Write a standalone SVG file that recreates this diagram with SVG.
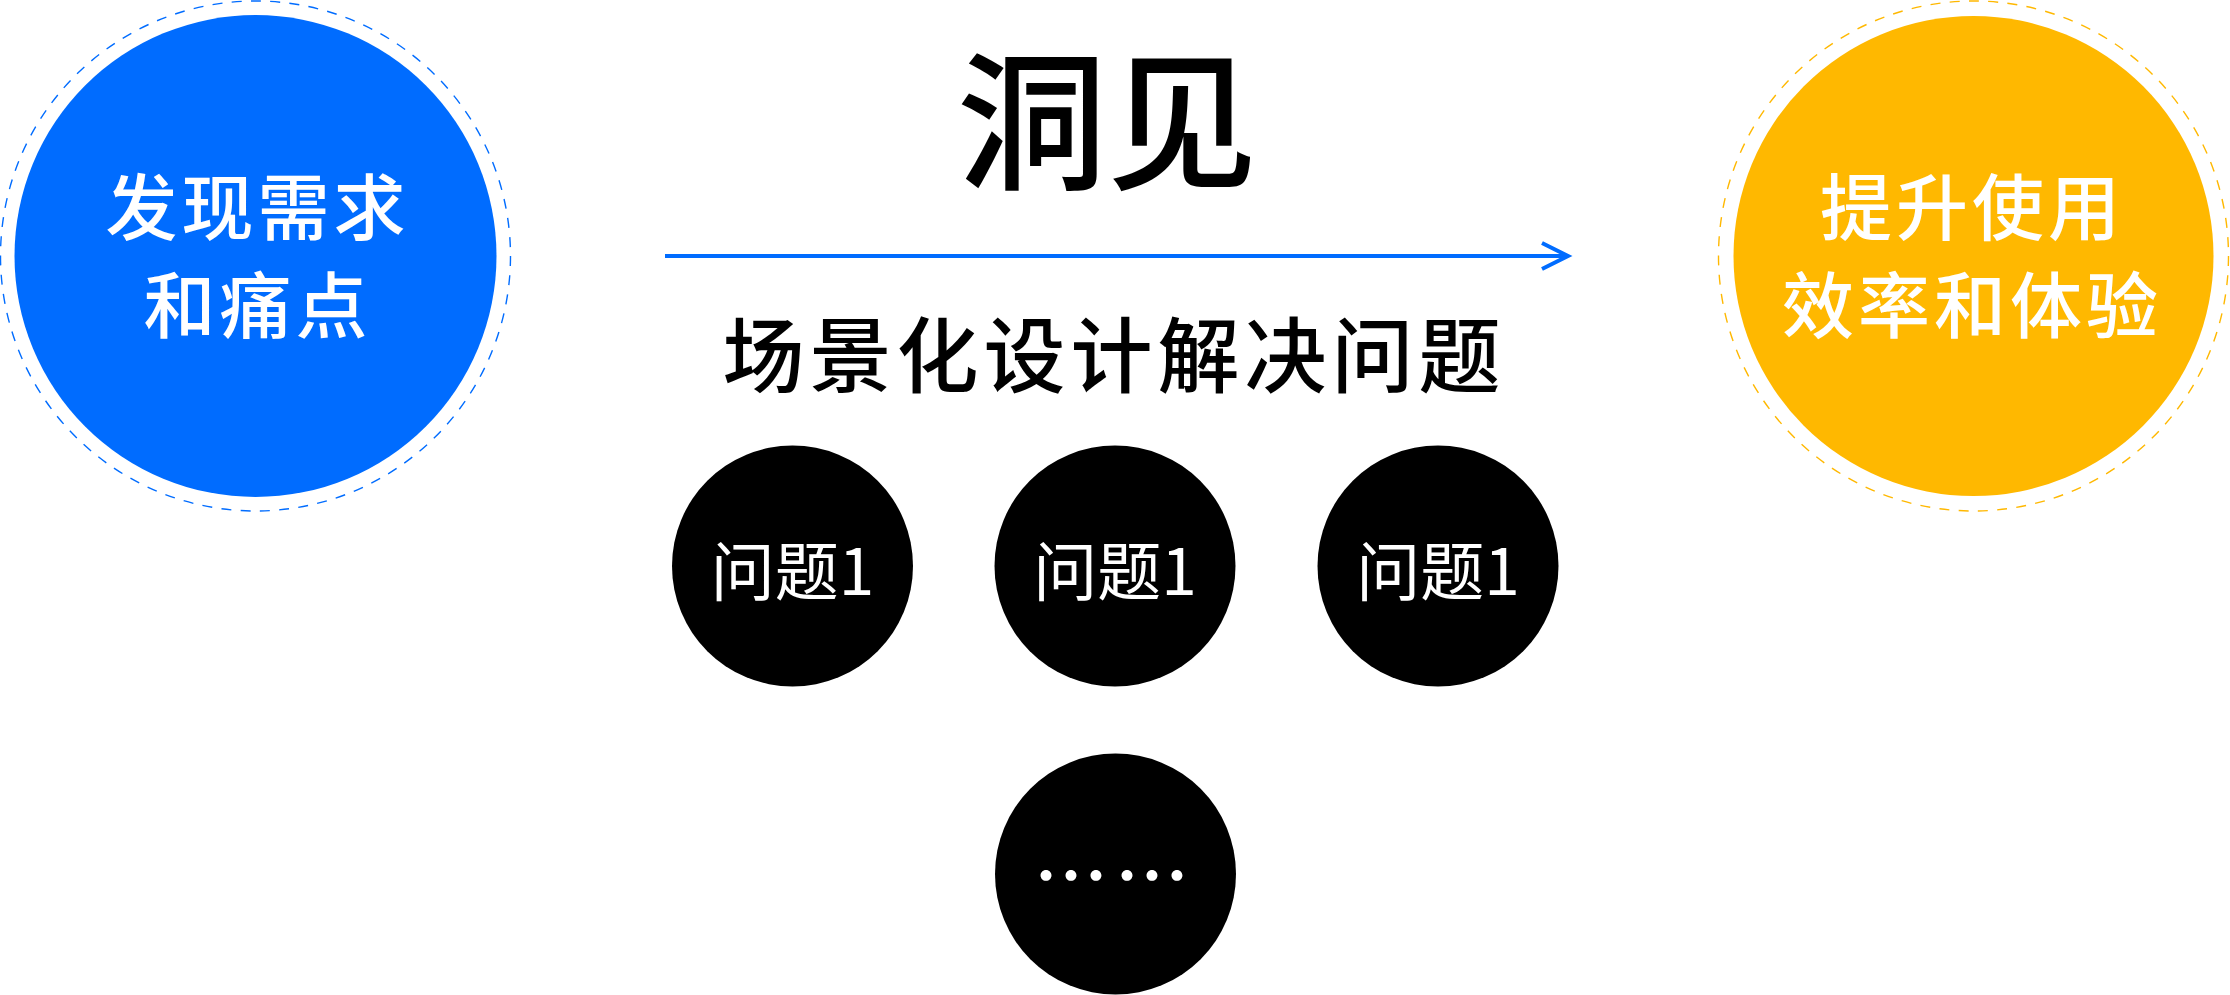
<svg xmlns="http://www.w3.org/2000/svg" width="2230" height="995" viewBox="0 0 2230 995">
<defs>
<style>
.cjk{font-family:"Noto Sans CJK SC","Noto Sans",sans-serif;text-anchor:middle}
.big{font-size:72px;font-weight:500;fill:#fff;letter-spacing:4px}
.q{font-size:64px;font-weight:400;fill:#fff}
.ring{fill:none;stroke-width:1.4;stroke-dasharray:10 9.3}
.dark{fill:#000}
.conn{stroke:#006CFF;stroke-width:4;fill:none}
</style>
</defs>
<rect width="2230" height="995" fill="#fff"/>
<g id="node-left">
<circle cx="255.5" cy="256" r="255" class="ring" stroke="#006CFF"/>
<circle cx="255.5" cy="256" r="241" fill="#006CFF"/>
<text class="cjk big" x="257.5" y="234">发现需求</text>
<text class="cjk big" x="257.5" y="332">和痛点</text>
</g>
<g id="node-right">
<circle cx="1973.5" cy="256" r="255" class="ring" stroke="#FFB800"/>
<circle cx="1973.5" cy="256" r="240" fill="#FFB800"/>
<text class="cjk big" x="1972" y="234">提升使用</text>
<text class="cjk big" x="1972" y="332">效率和体验</text>
</g>
<g id="title">
<text class="cjk" x="1107" y="178" font-size="150" font-weight="500" fill="#000">洞见</text>
<text class="cjk" x="1114" y="386" font-size="82" font-weight="500" fill="#000" letter-spacing="5">场景化设计解决问题</text>
</g>
<g id="connectors">
<line x1="665" y1="256" x2="1566" y2="256" class="conn"/>
<polyline points="1542,243 1568,256 1542,269" class="conn"/>
</g>
<g id="node-q1">
<circle cx="792.5" cy="566" r="120.5" class="dark"/>
<text class="cjk q" x="792.5" y="595">问题1</text>
</g>
<g id="node-q2">
<circle cx="1115" cy="566" r="120.5" class="dark"/>
<text class="cjk q" x="1115" y="595">问题1</text>
</g>
<g id="node-q3">
<circle cx="1438" cy="566" r="120.5" class="dark"/>
<text class="cjk q" x="1438" y="595">问题1</text>
</g>
<g id="node-more">
<circle cx="1115.5" cy="874" r="120.5" class="dark"/>
<text x="1033.5" y="903.5" font-family="Noto Sans CJK SC, sans-serif" font-size="75" font-weight="500" fill="#fff" letter-spacing="6">……</text>
</g>
</svg>
